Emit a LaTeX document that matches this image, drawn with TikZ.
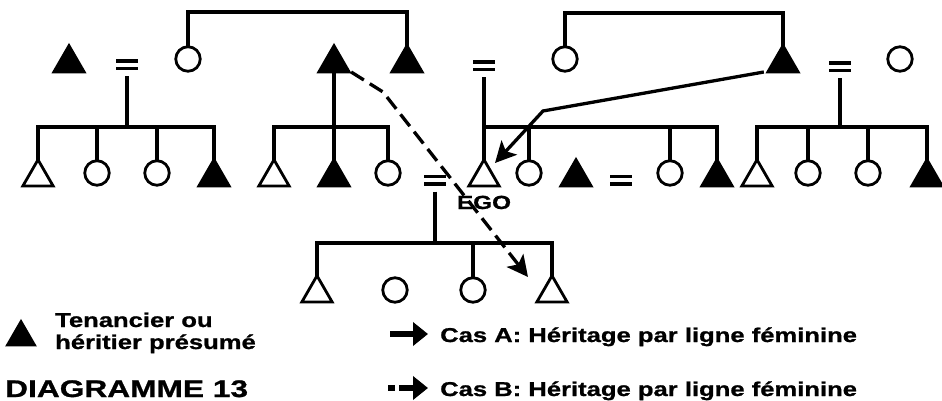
\documentclass[tikz,border=0pt]{standalone}
\usepackage{fontspec}
\setmainfont{Liberation Sans}
\newfontfamily\lgdfont[FakeStretch=1.28,FakeBold=1]{Liberation Sans}
\newfontfamily\ttlfont[FakeStretch=1.32,FakeBold=1]{Liberation Sans}
\usetikzlibrary{shapes.geometric,arrows.meta}

\begin{document}
\begin{tikzpicture}[x=1pt,y=-1pt,
  kin/.style={line width=3.3pt},
  male/.style={regular polygon, regular polygon sides=3, minimum size=35pt,
    inner sep=0pt, outer sep=0pt, draw, line width=2.8pt, anchor=south},
  heir/.style={male, fill=black},
  keyheir/.style={heir, minimum size=31pt},
  female/.style={circle, minimum size=24.5pt, inner sep=0pt, outer sep=0pt,
    draw, line width=2.8pt},
  marr/.style={minimum width=22pt, minimum height=11pt, inner sep=0pt,
    outer xsep=0pt, outer ysep=6pt,
    path picture={
      \fill (path picture bounding box.north west) rectangle
        ([yshift=-3.8pt]path picture bounding box.north east);
      \fill ([yshift=3.8pt]path picture bounding box.south west) rectangle
        (path picture bounding box.south east);}},
  lgd/.style={anchor=base west, inner sep=0pt,
    font=\lgdfont\bfseries\fontsize{20}{20}\selectfont},
  casA/.style={kin, -{Stealth[length=21pt,width=21pt,inset=5pt]}},
  casB/.style={kin, dash pattern=on 15pt off 7pt,
    -{Stealth[length=21pt,width=21pt,inset=5pt]}},
  keyarrow/.style={line width=5.5pt, -{Triangle[length=15pt,width=23pt]}}]

\useasboundingbox (0,0) rectangle (942,401);

% ---- generation I
\node[heir]   (fL)  at (69,72)  {};
\node[marr]   (eqL) at (127,65) {};
\node[female] (mL)  at (188,59) {};
\node[heir]   (hA)  at (334,72) {};
\node[heir]   (hB)  at (407,72) {};
\node[marr]   (eqC) at (484,66) {};
\node[female] (mR)  at (565,59) {};
\node[heir]   (hR)  at (783,72) {};
\node[marr]   (eqR) at (840,67) {};
\node[female] (wR)  at (900,59) {};

% ---- generation II
\node[male]   (a1) at (38,186)  {};
\node[female] (a2) at (97,173)  {};
\node[female] (a3) at (157,173) {};
\node[heir]   (a4) at (214,186) {};
\node[male]   (b1) at (274,186) {};
\node[heir]   (b2) at (334,186) {};
\node[female] (b3) at (388,173) {};
\node[marr]   (eqE) at (435,180) {};
\node[male]   (ego) at (484,186) {};
\node[female] (c2) at (529,173) {};
\node[heir]   (c3) at (576,186) {};
\node[marr]   (eqM) at (621,180) {};
\node[female] (c4) at (670,173) {};
\node[heir]   (c5) at (717,186) {};
\node[male]   (d1) at (757,186) {};
\node[female] (d2) at (808,173) {};
\node[female] (d3) at (868,173) {};
\node[heir]   (d4) at (927,186) {};

\node[anchor=base, inner sep=0pt,
  font=\lgdfont\bfseries\fontsize{19}{19}\selectfont] (egolbl) at (484,209) {EGO};

% ---- generation III
\node[male]   (e1) at (317,302) {};
\node[female] (e2) at (395,290) {};
\node[female] (e3) at (473,290) {};
\node[male]   (e4) at (552,302) {};

% ---- sibling bars
\coordinate (barTL) at (0,12);
\coordinate (barTR) at (0,13);
\coordinate (barM)  at (0,127);
\coordinate (barB)  at (0,243);

\draw[kin] (mL.north) |- (hB.north |- barTL) -- (hB.north);
\draw[kin] (mR.north) |- (hR.north |- barTR) -- (hR.north);

\draw[kin] (eqL.south) -- (eqL.south |- barM);
\draw[kin] (a1.north) |- (a4.north |- barM) -- (a4.north);
\draw[kin] (a2.north) -- (a2.north |- barM);
\draw[kin] (a3.north) -- (a3.north |- barM);

\draw[kin] (hA.south) -- (b2.north);
\draw[kin] (b1.north) |- (b3.north |- barM) -- (b3.north);

\draw[kin] (eqC.south) -- (ego.north);
\draw[kin] (ego.north |- barM) -| (c5.north);
\draw[kin] (c2.north) -- (c2.north |- barM);
\draw[kin] (c4.north) -- (c4.north |- barM);

\draw[kin] (eqR.south) -- (eqR.south |- barM);
\draw[kin] (d1.north) |- (d4.north |- barM) -- (d4.north);
\draw[kin] (d2.north) -- (d2.north |- barM);
\draw[kin] (d3.north) -- (d3.north |- barM);

\draw[kin] (eqE.south) -- (eqE.south |- barB);
\draw[kin] (e1.north) |- (e4.north |- barB) -- (e4.north);
\draw[kin] (e3.north) -- (e3.north |- barB);

% ---- inheritance paths
\coordinate (bendA) at (543,111);
\coordinate (tipA)  at (495,163);
\draw[casA] ([xshift=-4pt]hR.corner 2) -- (bendA) -- (tipA);

\coordinate (bendB) at (383,92);
\coordinate (tipB)  at (528,277);
\draw[casB] ([xshift=2pt]hA.corner 3) -- (bendB) -- (tipB);

% ---- key
\node[keyheir] (key) at (21,345) {};
\node[lgd] (k1) at (55,327) {Tenancier ou};
\node[lgd] (k2) at (55,349) {héritier présumé};
\node[anchor=base west, inner sep=0pt,
  font=\ttlfont\bfseries\fontsize{24}{24}\selectfont] (title) at (5,397) {DIAGRAMME 13};

\coordinate (kA0) at (390,334);
\coordinate (kA1) at (428,334);
\draw[keyarrow] (kA0) -- (kA1);
\node[lgd] (casAtxt) at (440,342) {Cas A: Héritage par ligne féminine};

\coordinate (kB0) at (388,388);
\coordinate (kB1) at (428,388);
\draw[keyarrow, dash pattern=on 7pt off 4pt on 40pt] (kB0) -- (kB1);
\node[lgd] (casBtxt) at (440,396) {Cas B: Héritage par ligne féminine};
\end{tikzpicture}
\end{document}
